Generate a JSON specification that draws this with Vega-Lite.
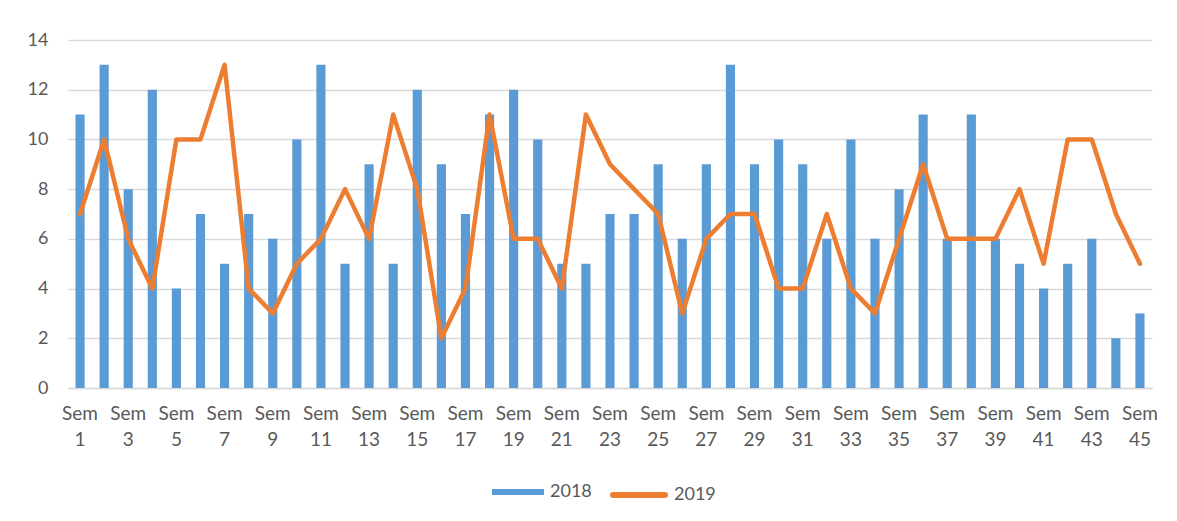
{
  "$schema": "https://vega.github.io/schema/vega-lite/v6.json",
  "autosize": {"type": "none"},
  "padding": {"left": 68, "top": 40, "right": 25, "bottom": 133},
  "width": 1084,
  "height": 348,
  "background": "white",
  "config": {
    "font": "Lato",
    "view": {"stroke": null},
    "axis": {"labelFont": "Lato", "labelColor": "#595959", "labelFontSize": 18},
    "legend": {"labelFont": "Lato", "labelFontSize": 18, "labelColor": "#595959", "padding": 0, "labelOffset": 6}
  },
  "data": {"values": [
    {"w":1,"y":"2018","v":11},{"w":2,"y":"2018","v":13},{"w":3,"y":"2018","v":8},{"w":4,"y":"2018","v":12},{"w":5,"y":"2018","v":4},
    {"w":6,"y":"2018","v":7},{"w":7,"y":"2018","v":5},{"w":8,"y":"2018","v":7},{"w":9,"y":"2018","v":6},{"w":10,"y":"2018","v":10},
    {"w":11,"y":"2018","v":13},{"w":12,"y":"2018","v":5},{"w":13,"y":"2018","v":9},{"w":14,"y":"2018","v":5},{"w":15,"y":"2018","v":12},
    {"w":16,"y":"2018","v":9},{"w":17,"y":"2018","v":7},{"w":18,"y":"2018","v":11},{"w":19,"y":"2018","v":12},{"w":20,"y":"2018","v":10},
    {"w":21,"y":"2018","v":5},{"w":22,"y":"2018","v":5},{"w":23,"y":"2018","v":7},{"w":24,"y":"2018","v":7},{"w":25,"y":"2018","v":9},
    {"w":26,"y":"2018","v":6},{"w":27,"y":"2018","v":9},{"w":28,"y":"2018","v":13},{"w":29,"y":"2018","v":9},{"w":30,"y":"2018","v":10},
    {"w":31,"y":"2018","v":9},{"w":32,"y":"2018","v":6},{"w":33,"y":"2018","v":10},{"w":34,"y":"2018","v":6},{"w":35,"y":"2018","v":8},
    {"w":36,"y":"2018","v":11},{"w":37,"y":"2018","v":6},{"w":38,"y":"2018","v":11},{"w":39,"y":"2018","v":6},{"w":40,"y":"2018","v":5},
    {"w":41,"y":"2018","v":4},{"w":42,"y":"2018","v":5},{"w":43,"y":"2018","v":6},{"w":44,"y":"2018","v":2},{"w":45,"y":"2018","v":3},
    {"w":1,"y":"2019","v":7},{"w":2,"y":"2019","v":10},{"w":3,"y":"2019","v":6},{"w":4,"y":"2019","v":4},{"w":5,"y":"2019","v":10},
    {"w":6,"y":"2019","v":10},{"w":7,"y":"2019","v":13},{"w":8,"y":"2019","v":4},{"w":9,"y":"2019","v":3},{"w":10,"y":"2019","v":5},
    {"w":11,"y":"2019","v":6},{"w":12,"y":"2019","v":8},{"w":13,"y":"2019","v":6},{"w":14,"y":"2019","v":11},{"w":15,"y":"2019","v":8},
    {"w":16,"y":"2019","v":2},{"w":17,"y":"2019","v":4},{"w":18,"y":"2019","v":11},{"w":19,"y":"2019","v":6},{"w":20,"y":"2019","v":6},
    {"w":21,"y":"2019","v":4},{"w":22,"y":"2019","v":11},{"w":23,"y":"2019","v":9},{"w":24,"y":"2019","v":8},{"w":25,"y":"2019","v":7},
    {"w":26,"y":"2019","v":3},{"w":27,"y":"2019","v":6},{"w":28,"y":"2019","v":7},{"w":29,"y":"2019","v":7},{"w":30,"y":"2019","v":4},
    {"w":31,"y":"2019","v":4},{"w":32,"y":"2019","v":7},{"w":33,"y":"2019","v":4},{"w":34,"y":"2019","v":3},{"w":35,"y":"2019","v":6},
    {"w":36,"y":"2019","v":9},{"w":37,"y":"2019","v":6},{"w":38,"y":"2019","v":6},{"w":39,"y":"2019","v":6},{"w":40,"y":"2019","v":8},
    {"w":41,"y":"2019","v":5},{"w":42,"y":"2019","v":10},{"w":43,"y":"2019","v":10},{"w":44,"y":"2019","v":7},{"w":45,"y":"2019","v":5}
  ]},
  "encoding": {
    "x": {
      "field": "w", "type": "ordinal", "title": null,
      "scale": {"paddingInner": 0.62, "paddingOuter": 0.31},
      "axis": {
        "labelAngle": 0,
        "labelExpr": "datum.value % 2 == 1 ? ['Sem', '' + datum.value] : ''",
        "labelFontSize": 19,
        "labelLineHeight": 26,
        "labelPadding": 16,
        "labelBaseline": "top",
        "ticks": false, "tickSize": 0,
        "domainColor": "#d9d9d9", "domainWidth": 1.5,
        "grid": false
      }
    },
    "y": {
      "field": "v", "type": "quantitative", "title": null,
      "scale": {"domain": [0, 14]},
      "axis": {
        "values": [0, 2, 4, 6, 8, 10, 12, 14],
        "domain": false, "ticks": false, "tickSize": 0,
        "labelPadding": 20,
        "gridColor": "#d9d9d9", "gridWidth": 1.5
      }
    }
  },
  "layer": [
    {
      "transform": [{"filter": "datum.y === '2018'"}],
      "mark": {"type": "bar", "opacity": 1},
      "encoding": {
        "fill": {
          "field": "y", "type": "nominal", "title": null,
          "scale": {"domain": ["2018"], "range": ["#5b9bd5"]},
          "legend": {
            "orient": "none", "legendX": 424, "legendY": 426,
            "symbolType": "M-1,-0.115H1V0.115H-1Z",
            "symbolSize": 2704, "symbolStrokeWidth": 0, "symbolOpacity": 1
          }
        }
      }
    },
    {
      "transform": [{"filter": "datum.y === '2019'"}],
      "mark": {"type": "line", "strokeWidth": 4.5, "strokeJoin": "round", "strokeCap": "round", "opacity": 1},
      "encoding": {
        "stroke": {
          "field": "y", "type": "nominal", "title": null,
          "scale": {"domain": ["2019"], "range": ["#ed7d31"]},
          "legend": {
            "orient": "none", "legendX": 542, "legendY": 426,
            "symbolType": "stroke",
            "symbolSize": 2704, "symbolStrokeWidth": 6, "symbolOpacity": 1,
            "encode": {"symbols": {"update": {"strokeCap": {"value": "round"}}}}
          }
        }
      }
    }
  ]
}
